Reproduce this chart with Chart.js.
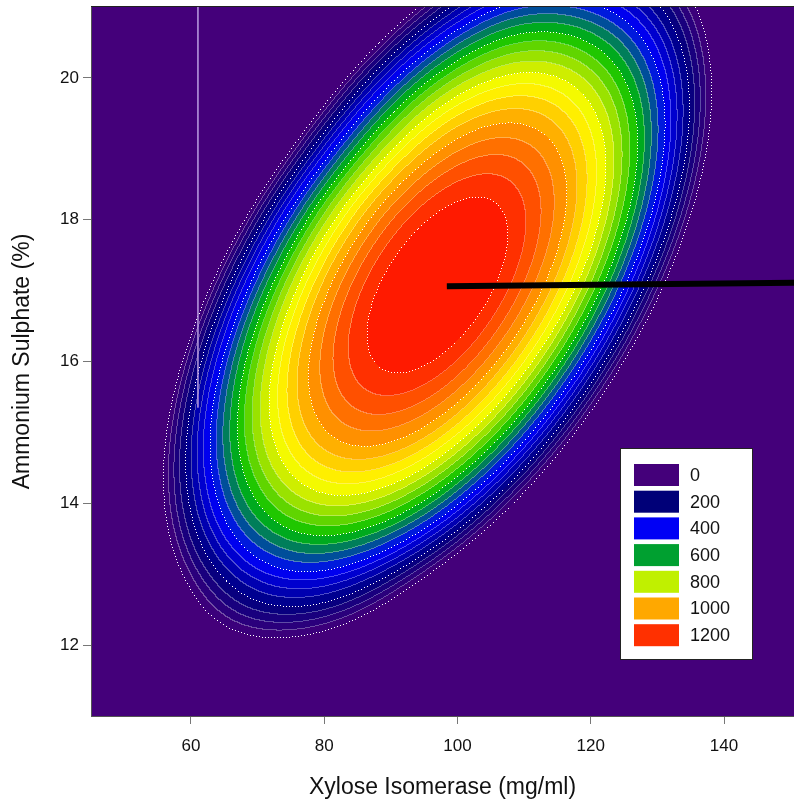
<!DOCTYPE html>
<html>
<head>
<meta charset="utf-8">
<script src="https://cdn.jsdelivr.net/npm/chart.js@4.4.0/dist/chart.umd.min.js"></script>
<style>
  html, body { margin: 0; padding: 0; background: #fff; }
  #wrap { width: 794px; height: 801px; }
</style>
</head>
<body>
<div id="wrap"><canvas id="chart" width="794" height="801"></canvas></div>
<script>
// Rejilla de la superficie de respuesta (valores estimados del gráfico)
const gridX = [45, 60, 75, 90, 105, 120, 135, 150];
const gridY = [11, 12, 13, 14, 15, 16, 17, 18, 19, 20, 21];
// una fila por valor de gridY (de abajo hacia arriba), una columna por gridX
const gridZ = [
    [-1326, -735, -725, -1230, -2288, -3782, -5777, -8274],
    [-982, -230, -60, -400, -1303, -2636, -4471, -6807],
    [-800, 50, 380, 200, -478, -1651, -3325, -5501],
    [-779, 214, 706, 696, 185, -828, -2341, -4356],
    [-919, 234, 886, 1037, 687, -165, -1518, -3373],
    [-1221, 93, 906, 1217, 1027, 336, -857, -2551],
    [-1683, -209, 764, 1236, 1206, 676, -357, -1890],
    [-2308, -673, 461, 1093, 1224, 854, -18, -1391],
    [-3093, -1298, -4, 789, 1081, 871, 160, -1053],
    [-4040, -2084, -600, 360, 790, 727, 176, -876],
    [-5148, -3032, -1330, -215, 370, 421, 31, -861]
];

// Ejes
const xTicks = [60, 80, 100, 120, 140];
const yTicks = [12, 14, 16, 18, 20];

// Leyenda
const legendLabels = ['0', '200', '400', '600', '800', '1000', '1200'];
const legendColors = ['#44007a', '#000078', '#0000f5', '#00a030', '#c0f000', '#ffa800', '#ff3000'];

// Línea negra y línea vertical tenue
const lineX = [98.4, 150.5];
const lineY = [17.06, 17.11];
const markX = [61.05, 61.05];
const markY = [21, 15.35];

// Niveles de contorno
const LEVEL_STEP = 50;
const MAJOR_STEP = 200;
const TOP_LEVEL = 1200;
const BACKGROUND = [68, 0, 122];
const CORE = [255, 26, 0];
const colourStops = [
    [0, [67, 0, 122]],
    [200, [0, 0, 128]],
    [400, [0, 0, 255]],
    [500, [0, 104, 120]],
    [600, [0, 192, 0]],
    [700, [128, 220, 0]],
    [800, [232, 244, 0]],
    [850, [255, 255, 0]],
    [1000, [255, 160, 0]],
    [1200, [255, 32, 0]]
];

function colourAt(level) {
    for (let i = 1; i < colourStops.length; i++) {
        const [l0, c0] = colourStops[i - 1];
        const [l1, c1] = colourStops[i];
        if (level <= l1) {
            const t = (level - l0) / (l1 - l0);
            return c0.map((c, k) => Math.round(c + (c1[k] - c) * t));
        }
    }
    return colourStops[colourStops.length - 1][1];
}

const nBands = TOP_LEVEL / LEVEL_STEP;
const bandColours = [];
for (let k = 0; k < nBands; k++) bandColours.push(colourAt(k * LEVEL_STEP + LEVEL_STEP / 2));
bandColours.push(CORE);

// Rejilla ampliada con dos nodos extra por lado (extrapolación cuadrática)
function buildPadded() {
    const q = (a, b, c, t) => a * (t - 1) * (t - 2) / 2 - b * t * (t - 2) + c * t * (t - 1) / 2;
    const ext = arr => {
        const n = arr.length;
        return [q(arr[0], arr[1], arr[2], -2), q(arr[0], arr[1], arr[2], -1), ...arr,
                q(arr[n - 3], arr[n - 2], arr[n - 1], 3), q(arr[n - 3], arr[n - 2], arr[n - 1], 4)];
    };
    const rows = gridZ.map(ext);
    return rows[0].map((_, i) => ext(rows.map(r => r[i])));
}

function cr(p0, p1, p2, p3, t) {
    return p1 + 0.5 * t * (p2 - p0 + t * (2 * p0 - 5 * p1 + 4 * p2 - p3 + t * (3 * (p1 - p2) + p3 - p0)));
}

function surface(P, X, Y) {
    const fx = (X - gridX[0]) / (gridX[1] - gridX[0]);
    const fy = (Y - gridY[0]) / (gridY[1] - gridY[0]);
    const i = Math.max(-1, Math.min(gridX.length - 1, Math.floor(fx)));
    const j = Math.max(-1, Math.min(gridY.length - 1, Math.floor(fy)));
    const tx = fx - i, ty = fy - j;
    const r = [];
    for (let m = -1; m <= 2; m++) {
        const col = P[i + m + 2];
        r.push(cr(col[j + 1], col[j + 2], col[j + 3], col[j + 4], ty));
    }
    return cr(r[0], r[1], r[2], r[3], tx);
}

function band(v) {
    if (v < 0) return -1;
    return Math.min(Math.floor(v / LEVEL_STEP), nBands);
}

let contourCache = null;

const contourPlugin = {
    id: 'contour',
    beforeDraw(chart) {
        const { ctx, chartArea, scales } = chart;
        const x0 = Math.round(chartArea.left), y0 = Math.round(chartArea.top);
        const w = Math.round(chartArea.right) - x0, h = Math.round(chartArea.bottom) - y0;

        if (!contourCache) {
            const P = buildPadded();
            const xs = [], ys = [];
            for (let x = 0; x < w; x++) xs.push(scales.x.getValueForPixel(x0 + x + 0.5));
            for (let y = 0; y < h; y++) ys.push(scales.y.getValueForPixel(y0 + y + 0.5));
            const V = new Float32Array(w * h);
            const K = new Int8Array(w * h);
            for (let y = 0; y < h; y++) {
                for (let x = 0; x < w; x++) {
                    const v = surface(P, xs[x], ys[y]);
                    V[y * w + x] = v;
                    K[y * w + x] = band(v);
                }
            }
            const off = document.createElement('canvas');
            off.width = w; off.height = h;
            const octx = off.getContext('2d');
            const img = octx.createImageData(w, h);
            const d = img.data;
            for (let p = 0; p < w * h; p++) {
                const c = K[p] < 0 ? BACKGROUND : bandColours[K[p]];
                d[p * 4] = c[0]; d[p * 4 + 1] = c[1]; d[p * 4 + 2] = c[2]; d[p * 4 + 3] = 255;
            }
            // líneas finas en cada nivel intermedio
            const alpha = 0.3;
            for (let y = 0; y < h; y++) {
                for (let x = 0; x < w; x++) {
                    const p = y * w + x;
                    const k = K[p];
                    let kn = k;
                    if (x + 1 < w && K[p + 1] !== k) kn = K[p + 1];
                    else if (y + 1 < h && K[p + w] !== k) kn = K[p + w];
                    if (kn === k) continue;
                    const lvl = Math.max(k, kn) * LEVEL_STEP;
                    if (lvl % MAJOR_STEP === 0) continue;
                    for (let c = 0; c < 3; c++) d[p * 4 + c] = Math.round(d[p * 4 + c] * (1 - alpha) + 255 * alpha);
                }
            }
            // líneas punteadas en los niveles principales
            const s = 3;
            const dot = (px, py) => {
                const xi = Math.round(px), yi = Math.round(py);
                if (xi < 0 || yi < 0 || xi >= w || yi >= h) return;
                const p = (yi * w + xi) * 4;
                d[p] = 255; d[p + 1] = 255; d[p + 2] = 255;
            };
            for (let y = 0; y + s < h; y += s) {
                for (let x = 0; x + s < w; x += s) {
                    const v = V[y * w + x];
                    const vr = V[y * w + x + s];
                    const vd = V[(y + s) * w + x];
                    const horiz = Math.abs(vr - v) >= Math.abs(vd - v);
                    const v2 = horiz ? vr : vd;
                    const a = Math.floor(v / MAJOR_STEP), b = Math.floor(v2 / MAJOR_STEP);
                    if (a === b) continue;
                    const m = Math.max(a, b);
                    if (m < 0 || m * MAJOR_STEP > TOP_LEVEL) continue;
                    const t = (m * MAJOR_STEP - v) / (v2 - v);
                    if (horiz) dot(x + t * s, y); else dot(x, y + t * s);
                }
            }
            octx.putImageData(img, 0, 0);
            contourCache = off;
        }
        ctx.save();
        ctx.drawImage(contourCache, x0, y0);
        ctx.fillStyle = '#222';
        ctx.fillRect(x0, y0 - 1, w, 1);
        ctx.restore();
    },
    afterDraw(chart) {
        const { ctx, chartArea } = chart;
        const left = chartArea.right - 174, top = chartArea.bottom - 268;
        ctx.save();
        ctx.fillStyle = '#fff';
        ctx.fillRect(left, top, 133, 212);
        ctx.strokeStyle = '#222';
        ctx.lineWidth = 1;
        ctx.strokeRect(left + 0.5, top + 0.5, 132, 211);
        ctx.font = "18px 'Liberation Sans', Arial, sans-serif";
        ctx.textBaseline = 'middle';
        ctx.textAlign = 'left';
        legendLabels.forEach((lab, i) => {
            const sy = top + 16 + i * 26.7;
            ctx.fillStyle = legendColors[i];
            ctx.fillRect(left + 14, sy, 45, 22);
            ctx.fillStyle = '#111';
            ctx.fillText(lab, left + 70, sy + 12);
        });
        ctx.restore();
    }
};

Chart.defaults.font.family = "'Liberation Sans', Arial, sans-serif";
Chart.defaults.color = '#111';

const ctx = document.getElementById('chart').getContext('2d');
new Chart(ctx, {
    type: 'scatter',
    data: {
        datasets: [
            {
                label: 'línea',
                data: lineX.map((x, i) => ({ x: x, y: lineY[i] })),
                showLine: true,
                borderColor: '#000',
                borderWidth: 6,
                pointRadius: 0,
                borderCapStyle: 'butt'
            },
            {
                label: 'marca',
                data: markX.map((x, i) => ({ x: x, y: markY[i] })),
                showLine: true,
                borderColor: 'rgba(190,160,225,0.75)',
                borderWidth: 1,
                pointRadius: 0
            }
        ]
    },
    options: {
        responsive: false,
        animation: false,
        devicePixelRatio: 1,
        layout: { padding: { top: 7, right: 0, left: 0, bottom: 0 } },
        plugins: {
            legend: { display: false },
            tooltip: { enabled: false }
        },
        scales: {
            x: {
                type: 'linear',
                position: 'bottom',
                min: 45,
                max: 150.5,
                afterBuildTicks: s => { s.ticks = xTicks.map(v => ({ value: v })); },
                afterFit: s => { s.height = 85; s.paddingLeft = 0; s.paddingRight = 0; },
                grid: { drawOnChartArea: false, drawTicks: true, tickLength: 8, color: '#777' },
                border: { color: '#555', width: 1 },
                ticks: { font: { size: 17 }, color: '#111', padding: 12, maxRotation: 0, autoSkip: false },
                title: {
                    display: true,
                    text: 'Xylose Isomerase (mg/ml)',
                    font: { size: 23 },
                    color: '#111',
                    padding: { top: 0, bottom: 0 }
                }
            },
            y: {
                type: 'linear',
                position: 'left',
                min: 11,
                max: 21,
                afterBuildTicks: s => { s.ticks = yTicks.map(v => ({ value: v })); },
                afterFit: s => { s.width = 91; s.paddingTop = 0; s.paddingBottom = 0; },
                grid: { drawOnChartArea: false, drawTicks: true, tickLength: 8, color: '#777' },
                border: { color: '#555', width: 1 },
                ticks: { font: { size: 17 }, color: '#111', padding: 4, autoSkip: false },
                title: {
                    display: true,
                    text: 'Ammonium Sulphate (%)',
                    font: { size: 23 },
                    color: '#111',
                    padding: { top: 9, bottom: 0 }
                }
            }
        }
    },
    plugins: [contourPlugin]
});
</script>
</body>
</html>
